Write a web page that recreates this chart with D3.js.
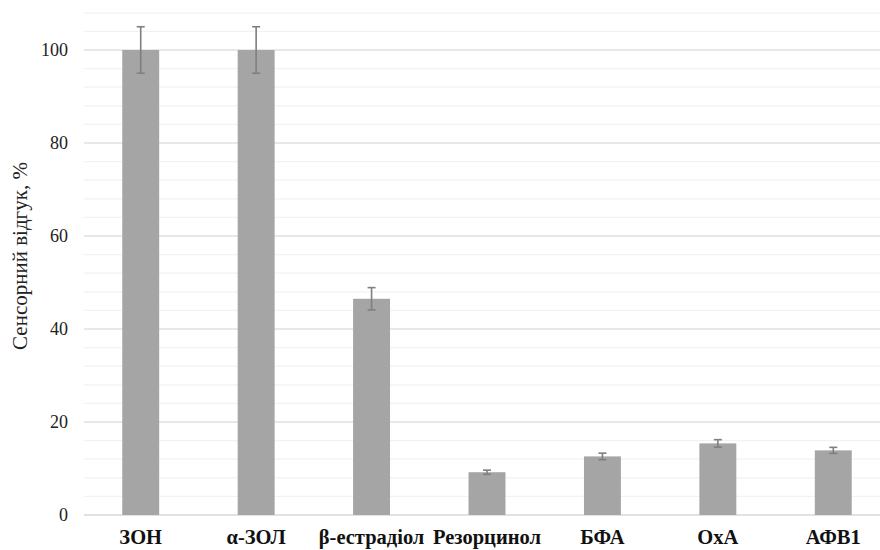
<!DOCTYPE html>
<html><head><meta charset="utf-8">
<script src="https://cdn.jsdelivr.net/npm/d3@7"></script>
<style>body{margin:0;background:#fff}svg{display:block}
svg text{font-family:"Liberation Serif","Times New Roman","DejaVu Serif",serif}</style>
</head><body><svg id="c" width="880" height="550"></svg>
<script>
const categories = ["ЗОН", "α-ЗОЛ", "β-естрадіол", "Резорцинол", "БФА", "ОхА", "АФВ1"];
const values = [100, 100, 46.5, 9.2, 12.6, 15.4, 13.9];
const errors = [5, 5, 2.4, 0.45, 0.7, 0.8, 0.65];
const majorTicks = [0, 20, 40, 60, 80, 100];
const minorTicks = [4, 8, 12, 16, 24, 28, 32, 36, 44, 48, 52, 56, 64, 68, 72, 76, 84, 88, 92, 96, 104, 108];
const yTitle = "Сенсорний відгук, %";

const svg = d3.select("#c");
const x = d3.scaleBand().domain(categories).range([83, 891]).paddingInner(0.68).paddingOuter(0.34);
const y = d3.scaleLinear().domain([0, 108]).range([515, 12.8]);

svg.append("g").selectAll("line").data(minorTicks).join("line")
  .attr("x1", 84).attr("x2", 880).attr("y1", d => y(d)).attr("y2", d => y(d))
  .attr("stroke", "#f2f2f2").attr("stroke-width", 1.2);
svg.append("g").selectAll("line").data(majorTicks).join("line")
  .attr("x1", 84).attr("x2", 880).attr("y1", d => y(d)).attr("y2", d => y(d))
  .attr("stroke", d => d === 0 ? "#d9d9d9" : "#e0e0e0").attr("stroke-width", 1.5);

svg.append("g").selectAll("text").data(majorTicks).join("text")
  .attr("x", 68).attr("y", d => y(d)).attr("dy", "0.35em")
  .attr("text-anchor", "end")
  .attr("font-size", 18).attr("fill", "#222").text(d => d);

svg.append("g").selectAll("rect").data(categories).join("rect")
  .attr("x", d => x(d)).attr("width", x.bandwidth())
  .attr("y", (d, i) => y(values[i])).attr("height", (d, i) => y(0) - y(values[i]))
  .attr("fill", "#a5a5a5");

const eb = svg.append("g").attr("stroke", "#7f7f7f").attr("stroke-width", 1.6);
categories.forEach((c, i) => {
  const cx = x(c) + x.bandwidth() / 2;
  const y1 = y(values[i] + errors[i]), y2 = y(values[i] - errors[i]);
  eb.append("line").attr("x1", cx).attr("x2", cx).attr("y1", y1).attr("y2", y2);
  eb.append("line").attr("x1", cx - 4).attr("x2", cx + 4).attr("y1", y1).attr("y2", y1);
  eb.append("line").attr("x1", cx - 4).attr("x2", cx + 4).attr("y1", y2).attr("y2", y2);
});

svg.append("g").selectAll("text").data(categories).join("text")
  .attr("x", d => x(d) + x.bandwidth() / 2).attr("y", 544)
  .attr("text-anchor", "middle")
  .attr("font-weight", "bold").attr("font-size", 20.5).attr("fill", "#111").text(d => d);

svg.append("text").attr("transform", "translate(27,256) rotate(-90)")
  .attr("text-anchor", "middle")
  .attr("font-size", 21).attr("fill", "#222").text(yTitle);
</script></body></html>
